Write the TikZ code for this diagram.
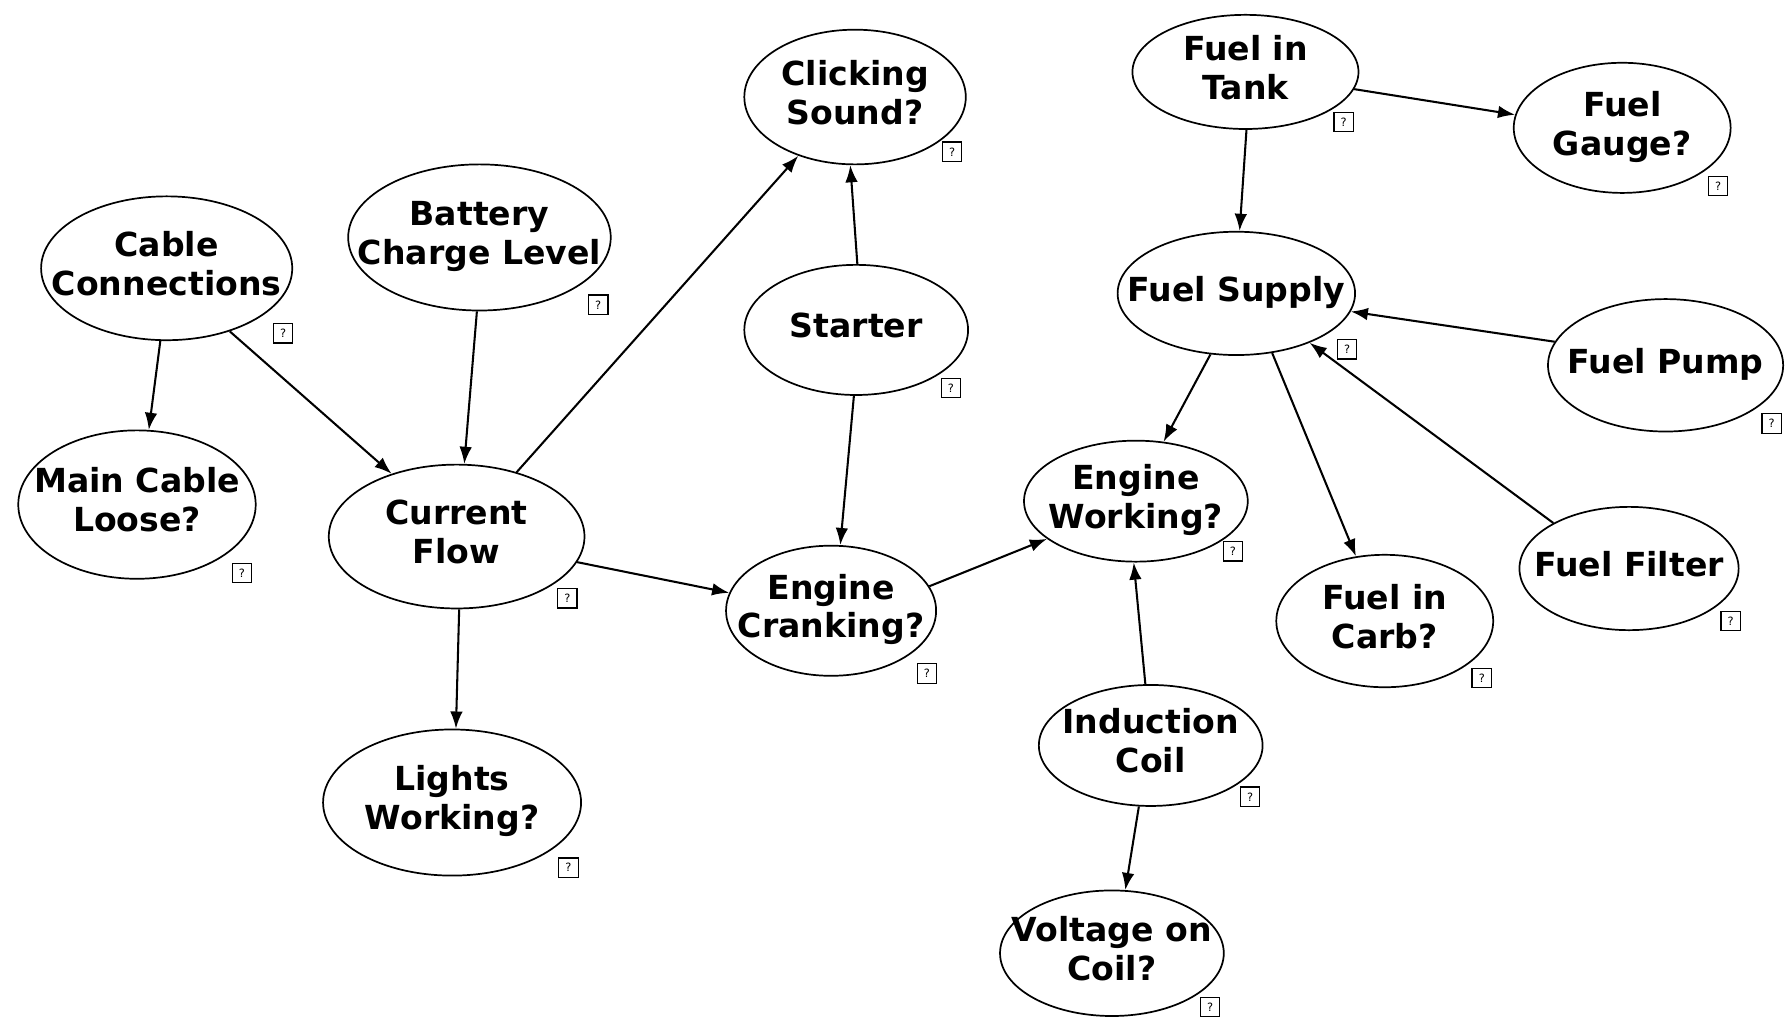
\documentclass[tikz,border=0pt]{standalone}
\usepackage{fontspec}
\setmainfont{DejaVu Sans}
\usetikzlibrary{shapes.geometric,arrows.meta}
% centred label of zero width, so the text may run over the outline
\newcommand\vartext[1]{\makebox[0pt]{\begin{tabular}{@{}c@{}}#1\end{tabular}}}
\tikzset{
  var/.style={ellipse, draw, line width=1.5pt, inner sep=0pt,
    font=\fontsize{29}{34}\selectfont\bfseries},
  qbox/.style={draw, line width=1.1pt, minimum size=17pt, inner sep=0pt,
    font=\fontsize{10}{10}\selectfont},
  link/.style={line width=1.8pt, -{Latex[length=15pt,width=11pt]}}
}
\begin{document}
\begin{tikzpicture}[x=1pt,y=-1pt]
\useasboundingbox[fill=white] (0,0) rectangle (1568,893);

% variables
\node[var, minimum width=220pt, minimum height=126pt] (cable)    at (146,235) {\vartext{Cable\\Connections}};
\node[var, minimum width=230pt, minimum height=128pt] (battery)  at (420,208) {\vartext{Battery\\Charge Level}};
\node[var, minimum width=194pt, minimum height=118pt] (click)    at (749,85)  {\vartext{Clicking\\Sound?}};
\node[var, minimum width=198pt, minimum height=100pt] (tank)     at (1091,63) {\vartext{Fuel in\\Tank}};
\node[var, minimum width=190pt, minimum height=114pt] (gauge)    at (1421,112) {\vartext{Fuel\\Gauge?}};
\node[var, minimum width=208pt, minimum height=108pt] (supply)   at (1083,257) {\vartext{Fuel Supply}};
\node[var, minimum width=196pt, minimum height=114pt] (starter)  at (750,289) {\vartext{Starter}};
\node[var, minimum width=206pt, minimum height=116pt] (pump)     at (1459,320) {\vartext{Fuel Pump}};
\node[var, minimum width=208pt, minimum height=130pt] (mainc)    at (120,442) {\vartext{Main Cable\\Loose?}};
\node[var, minimum width=224pt, minimum height=126pt] (current)  at (400,470) {\vartext{Current\\Flow}};
\node[var, minimum width=196pt, minimum height=106pt] (working)  at (995,439) {\vartext{Engine\\Working?}};
\node[var, minimum width=184pt, minimum height=114pt] (crank)    at (728,535) {\vartext{Engine\\Cranking?}};
\node[var, minimum width=192pt, minimum height=108pt] (filter)   at (1427,498) {\vartext{Fuel Filter}};
\node[var, minimum width=190pt, minimum height=116pt] (carb)     at (1213,544) {\vartext{Fuel in\\Carb?}};
\node[var, minimum width=226pt, minimum height=128pt] (lights)   at (396,703) {\vartext{Lights\\Working?}};
\node[var, minimum width=196pt, minimum height=106pt] (induct)   at (1008,653) {\vartext{Induction\\Coil}};
\node[var, minimum width=196pt, minimum height=110pt] (voltage)  at (974,835) {\vartext{Voltage on\\Coil?}};

% small query boxes beside each variable
\node[qbox] (qcable)   at (248,292) {?};
\node[qbox] (qbattery) at (524,267) {?};
\node[qbox] (qclick)   at (834,133) {?};
\node[qbox] (qtank)    at (1177,107) {?};
\node[qbox] (qgauge)   at (1505,163) {?};
\node[qbox] (qsupply)  at (1180,306) {?};
\node[qbox] (qstarter) at (833,340) {?};
\node[qbox] (qpump)    at (1552,371) {?};
\node[qbox] (qmainc)   at (212,502) {?};
\node[qbox] (qcurrent) at (497,524) {?};
\node[qbox] (qworking) at (1080,483) {?};
\node[qbox] (qcrank)   at (812,590) {?};
\node[qbox] (qfilter)  at (1516,544) {?};
\node[qbox] (qcarb)    at (1298,594) {?};
\node[qbox] (qlights)  at (498,760) {?};
\node[qbox] (qinduct)  at (1095,698) {?};
\node[qbox] (qvoltage) at (1060,882) {?};

% dependencies
\draw[link] (cable.-95)    -- (mainc.81);
\draw[link] (cable.-45)    -- (current.136);
\draw[link] (battery.-92)  -- (current.84);
\draw[link] (current.47)   -- (click.-134);
\draw[link] (current.-12)  -- (crank.170);
\draw[link] (current.-88)  -- (lights.87);
\draw[link] (starter.89)   -- (click.-94);
\draw[link] (starter.-92)  -- (crank.82);
\draw[link] (crank.14)     -- (working.-157);
\draw[link] (tank.-9)      -- (gauge.173);
\draw[link] (tank.-89)     -- (supply.87);
\draw[link] (supply.-113)  -- (working.65);
\draw[link] (supply.-59)   -- (carb.114);
\draw[link] (pump.168)     -- (supply.-9);
\draw[link] (filter.149)   -- (supply.-34);
\draw[link] (induct.95)    -- (working.-92);
\draw[link] (induct.-101)  -- (voltage.78);
\end{tikzpicture}
\end{document}
